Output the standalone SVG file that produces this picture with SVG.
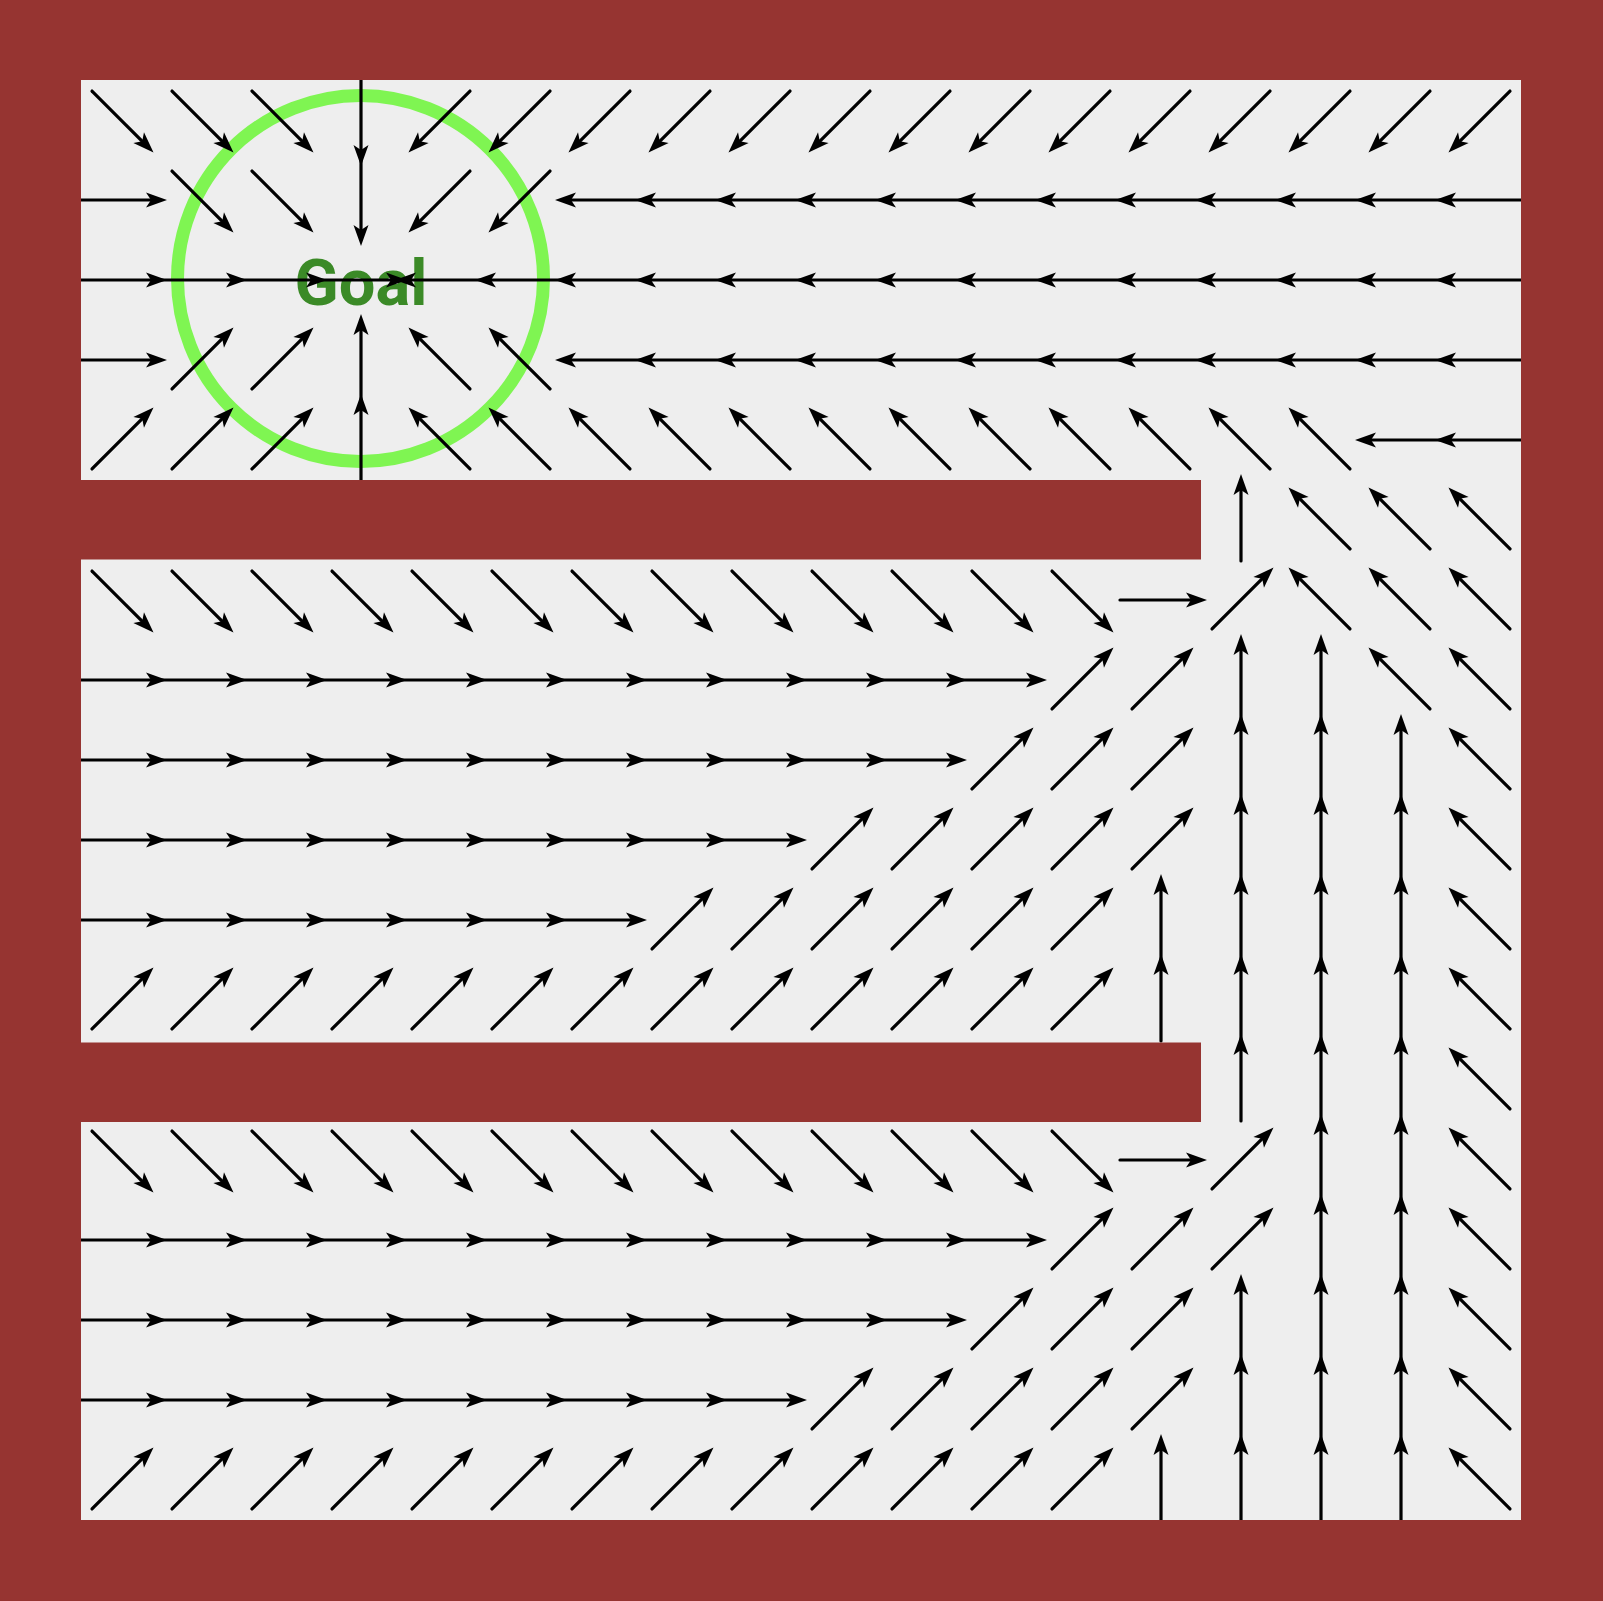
<svg xmlns="http://www.w3.org/2000/svg" xmlns:xlink="http://www.w3.org/1999/xlink" width="1603" height="1601" viewBox="0 0 1603 1601">
<style>
.wall{fill:#963431}
.floor{fill:#eeeeee}
.goal-ring{fill:none;stroke:#7ff552;stroke-width:13}
.goal-text{font-family:Roboto,"Liberation Sans",sans-serif;font-weight:bold;font-size:65px;fill:#3b8a27}
</style>
<defs>
<g id="E"><line x1="-41" y1="0" x2="34" y2="0" stroke="#000" stroke-width="3.2" stroke-linecap="round"/><path d="M46,0 L25,-7.5 L30,0 L25,7.5Z" fill="#000"/></g>
<g id="W" transform="rotate(180)"><use href="#E"/></g>
<g id="N" transform="rotate(-90)"><use href="#E"/></g>
<g id="S" transform="rotate(90)"><use href="#E"/></g>
<g id="NE" transform="rotate(-45)"><use href="#E"/></g>
<g id="NW" transform="rotate(-135)"><use href="#E"/></g>
<g id="SE" transform="rotate(45)"><use href="#E"/></g>
<g id="SW" transform="rotate(135)"><use href="#E"/></g>
</defs>
<rect class="wall" x="0" y="0" width="1603" height="1601"/>
<rect class="floor" x="81" y="80" width="1440" height="1440"/>
<g id="goal">
<circle class="goal-ring" cx="360.5" cy="278.5" r="183"/>
<text class="goal-text" x="361" y="305" text-anchor="middle">Goal</text>
</g>
<g id="connectors">
<g transform="translate(0,120)">
<use href="#SE" x="121"/><use href="#SE" x="201"/><use href="#SE" x="281"/><use href="#S" x="361"/>
<use href="#SW" x="441"/><use href="#SW" x="521"/><use href="#SW" x="601"/><use href="#SW" x="681"/><use href="#SW" x="761"/><use href="#SW" x="841"/><use href="#SW" x="921"/><use href="#SW" x="1001"/><use href="#SW" x="1081"/><use href="#SW" x="1161"/><use href="#SW" x="1241"/><use href="#SW" x="1321"/><use href="#SW" x="1401"/><use href="#SW" x="1481"/>
</g>
<g transform="translate(0,200)">
<use href="#E" x="121"/><use href="#SE" x="201"/><use href="#SE" x="281"/><use href="#S" x="361"/>
<use href="#SW" x="441"/><use href="#SW" x="521"/><use href="#W" x="601"/><use href="#W" x="681"/><use href="#W" x="761"/><use href="#W" x="841"/><use href="#W" x="921"/><use href="#W" x="1001"/><use href="#W" x="1081"/><use href="#W" x="1161"/><use href="#W" x="1241"/><use href="#W" x="1321"/><use href="#W" x="1401"/><use href="#W" x="1481"/>
</g>
<g transform="translate(0,280)">
<use href="#E" x="121"/><use href="#E" x="201"/><use href="#E" x="281"/><use href="#E" x="361"/>
<use href="#W" x="441"/><use href="#W" x="521"/><use href="#W" x="601"/><use href="#W" x="681"/><use href="#W" x="761"/><use href="#W" x="841"/><use href="#W" x="921"/><use href="#W" x="1001"/><use href="#W" x="1081"/><use href="#W" x="1161"/><use href="#W" x="1241"/><use href="#W" x="1321"/><use href="#W" x="1401"/><use href="#W" x="1481"/>
</g>
<g transform="translate(0,360)">
<use href="#E" x="121"/><use href="#NE" x="201"/><use href="#NE" x="281"/><use href="#N" x="361"/>
<use href="#NW" x="441"/><use href="#NW" x="521"/><use href="#W" x="601"/><use href="#W" x="681"/><use href="#W" x="761"/><use href="#W" x="841"/><use href="#W" x="921"/><use href="#W" x="1001"/><use href="#W" x="1081"/><use href="#W" x="1161"/><use href="#W" x="1241"/><use href="#W" x="1321"/><use href="#W" x="1401"/><use href="#W" x="1481"/>
</g>
<g transform="translate(0,440)">
<use href="#NE" x="121"/><use href="#NE" x="201"/><use href="#NE" x="281"/><use href="#N" x="361"/>
<use href="#NW" x="441"/><use href="#NW" x="521"/><use href="#NW" x="601"/><use href="#NW" x="681"/><use href="#NW" x="761"/><use href="#NW" x="841"/><use href="#NW" x="921"/><use href="#NW" x="1001"/><use href="#NW" x="1081"/><use href="#NW" x="1161"/><use href="#NW" x="1241"/><use href="#NW" x="1321"/><use href="#W" x="1401"/><use href="#W" x="1481"/>
</g>
<g transform="translate(0,520)">
<use href="#N" x="1241"/><use href="#NW" x="1321"/><use href="#NW" x="1401"/><use href="#NW" x="1481"/>
</g>
<g transform="translate(0,600)">
<use href="#SE" x="121"/><use href="#SE" x="201"/><use href="#SE" x="281"/><use href="#SE" x="361"/><use href="#SE" x="441"/><use href="#SE" x="521"/><use href="#SE" x="601"/><use href="#SE" x="681"/><use href="#SE" x="761"/><use href="#SE" x="841"/><use href="#SE" x="921"/><use href="#SE" x="1001"/><use href="#SE" x="1081"/>
<use href="#E" x="1161"/><use href="#NE" x="1241"/><use href="#NW" x="1321"/><use href="#NW" x="1401"/><use href="#NW" x="1481"/>
</g>
<g transform="translate(0,680)">
<use href="#E" x="121"/><use href="#E" x="201"/><use href="#E" x="281"/><use href="#E" x="361"/><use href="#E" x="441"/><use href="#E" x="521"/><use href="#E" x="601"/><use href="#E" x="681"/><use href="#E" x="761"/><use href="#E" x="841"/><use href="#E" x="921"/><use href="#E" x="1001"/>
<use href="#NE" x="1081"/><use href="#NE" x="1161"/><use href="#N" x="1241"/><use href="#N" x="1321"/><use href="#NW" x="1401"/><use href="#NW" x="1481"/>
</g>
<g transform="translate(0,760)">
<use href="#E" x="121"/><use href="#E" x="201"/><use href="#E" x="281"/><use href="#E" x="361"/><use href="#E" x="441"/><use href="#E" x="521"/><use href="#E" x="601"/><use href="#E" x="681"/><use href="#E" x="761"/><use href="#E" x="841"/><use href="#E" x="921"/>
<use href="#NE" x="1001"/><use href="#NE" x="1081"/><use href="#NE" x="1161"/><use href="#N" x="1241"/><use href="#N" x="1321"/><use href="#N" x="1401"/><use href="#NW" x="1481"/>
</g>
<g transform="translate(0,840)">
<use href="#E" x="121"/><use href="#E" x="201"/><use href="#E" x="281"/><use href="#E" x="361"/><use href="#E" x="441"/><use href="#E" x="521"/><use href="#E" x="601"/><use href="#E" x="681"/><use href="#E" x="761"/>
<use href="#NE" x="841"/><use href="#NE" x="921"/><use href="#NE" x="1001"/><use href="#NE" x="1081"/><use href="#NE" x="1161"/><use href="#N" x="1241"/><use href="#N" x="1321"/><use href="#N" x="1401"/><use href="#NW" x="1481"/>
</g>
<g transform="translate(0,920)">
<use href="#E" x="121"/><use href="#E" x="201"/><use href="#E" x="281"/><use href="#E" x="361"/><use href="#E" x="441"/><use href="#E" x="521"/><use href="#E" x="601"/>
<use href="#NE" x="681"/><use href="#NE" x="761"/><use href="#NE" x="841"/><use href="#NE" x="921"/><use href="#NE" x="1001"/><use href="#NE" x="1081"/><use href="#N" x="1161"/><use href="#N" x="1241"/><use href="#N" x="1321"/><use href="#N" x="1401"/><use href="#NW" x="1481"/>
</g>
<g transform="translate(0,1000)">
<use href="#NE" x="121"/><use href="#NE" x="201"/><use href="#NE" x="281"/><use href="#NE" x="361"/><use href="#NE" x="441"/><use href="#NE" x="521"/><use href="#NE" x="601"/><use href="#NE" x="681"/><use href="#NE" x="761"/><use href="#NE" x="841"/><use href="#NE" x="921"/><use href="#NE" x="1001"/><use href="#NE" x="1081"/>
<use href="#N" x="1161"/><use href="#N" x="1241"/><use href="#N" x="1321"/><use href="#N" x="1401"/><use href="#NW" x="1481"/>
</g>
<g transform="translate(0,1080)">
<use href="#N" x="1241"/><use href="#N" x="1321"/><use href="#N" x="1401"/><use href="#NW" x="1481"/>
</g>
<g transform="translate(0,1160)">
<use href="#SE" x="121"/><use href="#SE" x="201"/><use href="#SE" x="281"/><use href="#SE" x="361"/><use href="#SE" x="441"/><use href="#SE" x="521"/><use href="#SE" x="601"/><use href="#SE" x="681"/><use href="#SE" x="761"/><use href="#SE" x="841"/><use href="#SE" x="921"/><use href="#SE" x="1001"/><use href="#SE" x="1081"/>
<use href="#E" x="1161"/><use href="#NE" x="1241"/><use href="#N" x="1321"/><use href="#N" x="1401"/><use href="#NW" x="1481"/>
</g>
<g transform="translate(0,1240)">
<use href="#E" x="121"/><use href="#E" x="201"/><use href="#E" x="281"/><use href="#E" x="361"/><use href="#E" x="441"/><use href="#E" x="521"/><use href="#E" x="601"/><use href="#E" x="681"/><use href="#E" x="761"/><use href="#E" x="841"/><use href="#E" x="921"/><use href="#E" x="1001"/>
<use href="#NE" x="1081"/><use href="#NE" x="1161"/><use href="#NE" x="1241"/><use href="#N" x="1321"/><use href="#N" x="1401"/><use href="#NW" x="1481"/>
</g>
<g transform="translate(0,1320)">
<use href="#E" x="121"/><use href="#E" x="201"/><use href="#E" x="281"/><use href="#E" x="361"/><use href="#E" x="441"/><use href="#E" x="521"/><use href="#E" x="601"/><use href="#E" x="681"/><use href="#E" x="761"/><use href="#E" x="841"/><use href="#E" x="921"/>
<use href="#NE" x="1001"/><use href="#NE" x="1081"/><use href="#NE" x="1161"/><use href="#N" x="1241"/><use href="#N" x="1321"/><use href="#N" x="1401"/><use href="#NW" x="1481"/>
</g>
<g transform="translate(0,1400)">
<use href="#E" x="121"/><use href="#E" x="201"/><use href="#E" x="281"/><use href="#E" x="361"/><use href="#E" x="441"/><use href="#E" x="521"/><use href="#E" x="601"/><use href="#E" x="681"/><use href="#E" x="761"/>
<use href="#NE" x="841"/><use href="#NE" x="921"/><use href="#NE" x="1001"/><use href="#NE" x="1081"/><use href="#NE" x="1161"/><use href="#N" x="1241"/><use href="#N" x="1321"/><use href="#N" x="1401"/><use href="#NW" x="1481"/>
</g>
<g transform="translate(0,1480)">
<use href="#NE" x="121"/><use href="#NE" x="201"/><use href="#NE" x="281"/><use href="#NE" x="361"/><use href="#NE" x="441"/><use href="#NE" x="521"/><use href="#NE" x="601"/><use href="#NE" x="681"/><use href="#NE" x="761"/><use href="#NE" x="841"/><use href="#NE" x="921"/><use href="#NE" x="1001"/><use href="#NE" x="1081"/>
<use href="#N" x="1161"/><use href="#N" x="1241"/><use href="#N" x="1321"/><use href="#N" x="1401"/><use href="#NW" x="1481"/>
</g>
</g>
<g id="walls">
<path class="wall" fill-rule="evenodd" d="M0,0 H1603 V1601 H0 Z M81,80 V1520 H1521 V80 Z"/>
<rect id="wall-upper" class="wall" x="0" y="480" width="1201" height="79.5"/>
<rect id="wall-lower" class="wall" x="0" y="1042.5" width="1201" height="79.5"/>
</g>
</svg>
